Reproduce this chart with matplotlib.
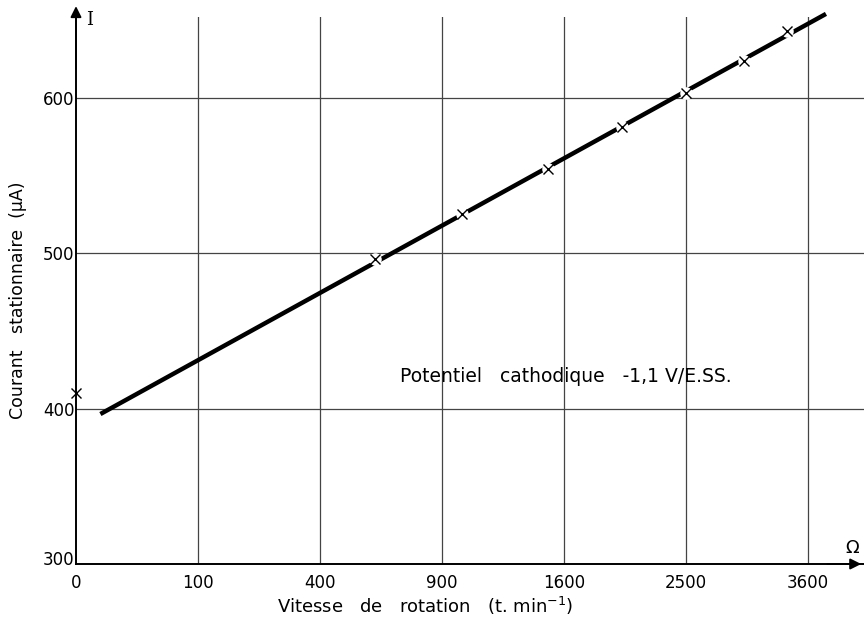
import matplotlib
matplotlib.use("Agg")
import matplotlib.pyplot as plt
import matplotlib.transforms as mtransforms
import numpy as np

# measured points (Omega in t/min, I in microampere)
omega_pts = [0, 600, 1000, 1500, 2000, 2500, 3000, 3400]
current_pts = [410, 496, 525, 554, 581, 603, 624, 643]

# drawn straight line (ends)
line_omega = [4, 3780]
line_current = [396.5, 654]

x_ticks = [0, 100, 400, 900, 1600, 2500, 3600]
y_ticks = [300, 400, 500, 600]

plt.rcParams["font.family"] = ["DejaVu Sans"]

fig = plt.figure(figsize=(8.64, 6.19), dpi=100)
ax = fig.add_axes([76 / 864, 55 / 619, 1 - 76 / 864, (564 - 17) / 619])

ax.set_xscale("function", functions=(lambda v: np.sqrt(np.clip(v, 0, None)), np.square))
ax.set_xlim(0, 64.6 ** 2)
ax.set_ylim(300, 652)

ax.plot(line_omega, line_current, color="black", lw=3.2, solid_capstyle="butt",
        zorder=2, clip_on=False)
ax.plot(omega_pts[1:], current_pts[1:], "o", ms=9, mfc="white", mec="none", zorder=3)
ax.plot(omega_pts, current_pts, "x", ms=7, mew=1.0, color="black", zorder=4, clip_on=False)

# grid: vertical lines from the axis up, horizontal lines to the right edge
for xv in x_ticks[1:]:
    ax.axvline(xv, color="#444444", lw=0.9, zorder=1)
for yv in y_ticks[1:]:
    ax.axhline(yv, color="#444444", lw=0.9, zorder=1)

for s in ["top", "right"]:
    ax.spines[s].set_visible(False)
for s in ["left", "bottom"]:
    ax.spines[s].set_linewidth(1.4)

ax.set_xticks(x_ticks)
ax.set_xticklabels([str(t) for t in x_ticks])
ax.set_yticks(y_ticks)
ax.set_yticklabels([str(t) for t in y_ticks])
ax.tick_params(length=0, labelsize=12)
ax.tick_params(axis="x", pad=7)
ax.tick_params(axis="y", pad=1)
lab300 = ax.get_yticklabels()[0]
lab300.set_transform(lab300.get_transform()
                     + mtransforms.ScaledTranslation(0, 4 / 72, fig.dpi_scale_trans))

# axis arrows
ax.annotate("", xy=(0, 1.025), xytext=(0, 0.9), xycoords="axes fraction",
            arrowprops=dict(arrowstyle="-|>", color="black", lw=1.4, mutation_scale=16))
ax.annotate("", xy=(1.0, 0), xytext=(0.95, 0), xycoords="axes fraction",
            arrowprops=dict(arrowstyle="-|>", color="black", lw=1.4, mutation_scale=16))

fig.text(86 / 864, 1 - 20 / 619, "I", fontsize=13, family="DejaVu Serif",
         ha="left", va="center")
fig.text(852 / 864, 1 - 548 / 619, "Ω", fontsize=13, ha="center", va="center")

fig.text(425 / 864, 1 - 606 / 619, "Vitesse   de   rotation   (t. min$^{-1}$)",
         fontsize=13, ha="center", va="center")
fig.text(18 / 864, 1 - 300 / 619, "Courant   stationnaire  (µA)", fontsize=12.5,
         rotation=90, ha="center", va="center")
fig.text(400 / 864, 1 - 377 / 619, "Potentiel   cathodique   -1,1 V/E.SS.",
         fontsize=13.5, ha="left", va="center")

fig.savefig("out.png", dpi=100)
